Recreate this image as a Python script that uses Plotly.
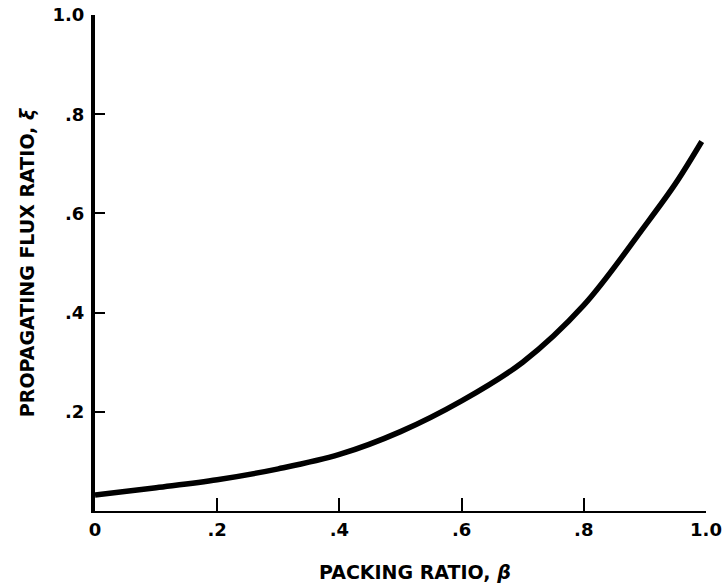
import plotly.graph_objects as go

# Data
beta = [0.0, 0.1, 0.2, 0.3, 0.4, 0.5, 0.6, 0.7, 0.8, 0.9, 0.95, 0.993]
xi = [0.032, 0.047, 0.063, 0.085, 0.114, 0.160, 0.222, 0.300, 0.415, 0.575, 0.660, 0.745]

x_tickvals = [0, 0.2, 0.4, 0.6, 0.8, 1.0]
x_ticktext = ["0", ".2", ".4", ".6", ".8", "1.0"]
y_tickvals = [0.2, 0.4, 0.6, 0.8, 1.0]
y_ticktext = [".2", ".4", ".6", ".8", "1.0"]

x_title = "PACKING RATIO, <i>β</i>"
y_title = "PROPAGATING FLUX RATIO, <i>ξ</i>"

FONT = "DejaVu Sans"

W, H = 728, 587
ML, MR, MT, MB = 95, 22, 15, 76

fig = go.Figure()
fig.add_trace(go.Scatter(
    x=beta, y=xi, mode="lines",
    line=dict(color="black", width=5.5, shape="spline", smoothing=1.0),
    showlegend=False, hoverinfo="skip",
))

fig.update_layout(
    width=W, height=H,
    margin=dict(l=ML, r=MR, t=MT, b=MB),
    paper_bgcolor="white", plot_bgcolor="white",
    font=dict(family=FONT, color="black", size=16, weight="bold"),
)

# x-axis title as an annotation placed slightly right of centre, as in the reference
pw = W - ML - MR
ph = H - MT - MB
fig.add_annotation(
    text=x_title, xref="paper", yref="paper",
    x=(415 - ML) / pw, y=-(572 - (H - MB)) / ph,
    xanchor="center", yanchor="middle", showarrow=False,
    font=dict(family=FONT, size=19, weight="bold", color="black"),
)

fig.update_xaxes(
    range=[0, 1.0], showgrid=False, zeroline=False, automargin=False,
    showline=True, linecolor="black", linewidth=2,
    ticks="inside", ticklen=13, tickwidth=2, tickcolor="black",
    tickvals=x_tickvals, ticktext=x_ticktext, ticklabelstandoff=1,
    tickfont=dict(family=FONT, size=18, weight="bold"),
)
fig.update_yaxes(
    range=[0, 1.0], showgrid=False, zeroline=False, automargin=False,
    showline=True, linecolor="black", linewidth=4,
    ticks="inside", ticklen=10, tickwidth=2, tickcolor="black",
    tickvals=y_tickvals, ticktext=y_ticktext, ticklabelstandoff=3,
    tickfont=dict(family=FONT, size=18, weight="bold"),
    title=dict(text=y_title, standoff=14,
               font=dict(family=FONT, size=19, weight="bold")),
)

# remove the browser's default 8px body margin so the figure sits at the page corner
fig.write_html("out.html", config={"displayModeBar": False},
               post_script="document.body.style.margin='0';")
